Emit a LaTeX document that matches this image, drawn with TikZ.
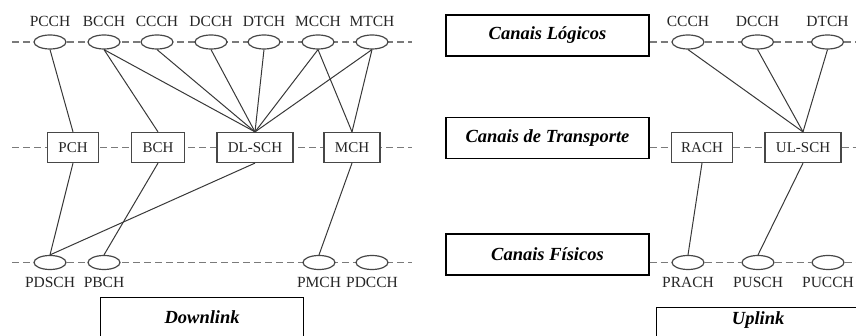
\documentclass[tikz,border=0pt]{standalone}
\usepackage{fontspec}
\setmainfont{Liberation Serif}
\usetikzlibrary{shapes.geometric}
\definecolor{shapegray}{HTML}{474747}
\definecolor{linkgray}{HTML}{383838}
\definecolor{dashgray}{HTML}{7A7A7A}
\definecolor{textgray}{HTML}{262626}
\newcommand\chanfont{\fontsize{15.5}{18}\selectfont}
\begin{document}
\begin{tikzpicture}[x=1pt,y=-1pt,
  chan/.style={ellipse, draw=shapegray, line width=1.2pt, fill=white,
    minimum width=32pt, minimum height=14pt, inner sep=0pt},
  chanlbl/.style={inner sep=0pt, text=textgray},
  upchan/.style={chan, label={[chanlbl, label distance=7.5pt]above:{\chanfont #1}}},
  downchan/.style={chan, label={[chanlbl, label distance=6.5pt]below:{\chanfont #1}}},
  trch/.style={rectangle, draw=shapegray, line width=1.2pt, fill=white,
    minimum height=30pt, inner xsep=11pt, text=textgray,
    font=\fontsize{15}{18}\selectfont},
  titlebox/.style={rectangle, draw=black, line width=1.2pt, fill=white,
    minimum width=203pt, minimum height=41pt, inner ysep=4pt,
    font=\fontsize{18.5}{22}\selectfont\bfseries\itshape},
  layer/.style={dashgray, line width=1.1pt, dash pattern=on 7pt off 4pt},
  link/.style={linkgray, line width=1pt}
]
\useasboundingbox (0,0) rectangle (856,336);

% ---------- Downlink: layer lines ----------
\coordinate (dlL1) at (12,42);   \coordinate (dlR1) at (412,42);
\coordinate (dlL2) at (12,147.5);\coordinate (dlR2) at (412,147.5);
\coordinate (dlL3) at (12,262.5);\coordinate (dlR3) at (412,262.5);
\draw[layer] (dlL1) -- (dlR1);
\draw[layer] (dlL2) -- (dlR2);
\draw[layer] (dlL3) -- (dlR3);

% logical channels
\node[upchan=PCCH] (pcch) at (50,42) {};
\node[upchan=BCCH] (bcch) at (104,42) {};
\node[upchan=CCCH] (cccha) at (157,42) {};
\node[upchan=DCCH] (dccha) at (211,42) {};
\node[upchan=DTCH] (dtcha) at (264,42) {};
\node[upchan=MCCH] (mcch) at (318,42) {};
\node[upchan=MTCH] (mtch) at (372,42) {};

% transport channels
\node[trch] (pch) at (73,147.5) {PCH};
\node[trch] (bch) at (158,147.5) {BCH};
\node[trch] (dlsch) at (255,147.5) {DL-SCH};
\node[trch] (mch) at (352,147.5) {MCH};

% physical channels
\node[downchan=PDSCH] (pdsch) at (50,262.5) {};
\node[downchan=PBCH] (pbch) at (104,262.5) {};
\node[downchan=PMCH] (pmch) at (319,262.5) {};
\node[downchan=PDCCH] (pdcch) at (372,262.5) {};

% mappings
\draw[link] (pcch.south) -- (pch.north);
\draw[link] (bcch.south) -- (bch.north);
\draw[link] (bcch.south) -- (dlsch.north);
\draw[link] (cccha.south) -- (dlsch.north);
\draw[link] (dccha.south) -- (dlsch.north);
\draw[link] (dtcha.south) -- (dlsch.north);
\draw[link] (mcch.south) -- (dlsch.north);
\draw[link] (mtch.south) -- (dlsch.north);
\draw[link] (mcch.south) -- (mch.north);
\draw[link] (mtch.south) -- (mch.north);
\draw[link] (pch.south) -- (pdsch.north);
\draw[link] (dlsch.south) -- (pdsch.north);
\draw[link] (bch.south) -- (pbch.north);
\draw[link] (mch.south) -- (pmch.north);

\node[titlebox, anchor=north west, text height=22pt, text depth=15pt] (down) at (100,297) {Downlink};

% ---------- layer titles ----------
\node[titlebox] (logic) at (547.5,35.5) {Canais Lógicos};
\node[titlebox] (transp) at (547.5,138) {Canais de Transporte};
\node[titlebox] (phys) at (547.5,254.5) {Canais Físicos};

% ---------- Uplink ----------
\node[upchan=CCCH] (ccchb) at (688,42) {};
\node[upchan=DCCH] (dcchb) at (757.5,42) {};
\node[upchan=DTCH] (dtchb) at (827.5,42) {};
\node[trch, inner xsep=10pt] (rach) at (702,147.5) {RACH};
\node[trch] (ulsch) at (803,147.5) {UL-SCH};
\node[downchan=PRACH] (prach) at (688,262.5) {};
\node[downchan=PUSCH] (pusch) at (758,262.5) {};
\node[downchan=PUCCH] (pucch) at (828,262.5) {};

\coordinate (ulR1) at (870,42);
\coordinate (ulR2) at (870,147.5);
\coordinate (ulR3) at (870,262.5);
\draw[layer] (logic.east |- ccchb.center) -- (ccchb.west);
\draw[layer] (ccchb.east) -- (dcchb.west);
\draw[layer] (dcchb.east) -- (dtchb.west);
\draw[layer] (dtchb.east) -- (ulR1);
\draw[layer] (transp.east |- rach.center) -- (rach.west);
\draw[layer] (rach.east) -- (ulsch.west);
\draw[layer] (ulsch.east) -- (ulR2);
\draw[layer] (phys.east |- prach.center) -- (prach.west);
\draw[layer] (prach.east) -- (pusch.west);
\draw[layer] (pusch.east) -- (pucch.west);
\draw[layer] (pucch.east) -- (ulR3);

\draw[link] (ccchb.south) -- (ulsch.north);
\draw[link] (dcchb.south) -- (ulsch.north);
\draw[link] (dtchb.south) -- (ulsch.north);
\draw[link] (rach.south) -- (prach.north);
\draw[link] (ulsch.south) -- (pusch.north);

\node[titlebox, anchor=north west, text height=13pt, text depth=20pt] (up) at (656,307) {Uplink};
\end{tikzpicture}
\end{document}
